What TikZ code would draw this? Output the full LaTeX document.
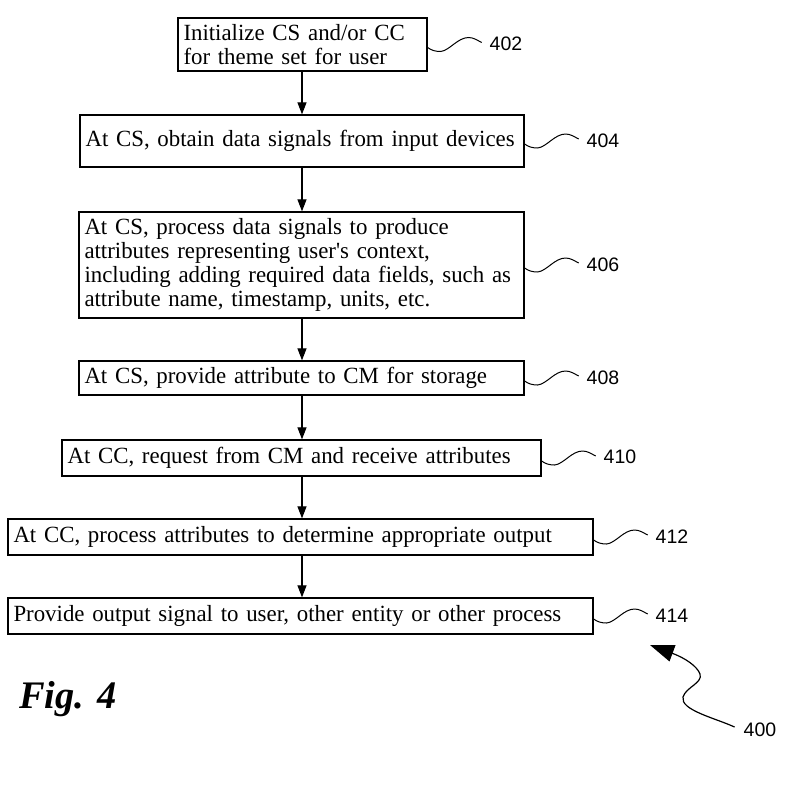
\documentclass[tikz,border=0pt]{standalone}
\usepackage{fontspec}
\setmainfont{Liberation Serif}[FakeStretch=0.985]
\newfontfamily\labelfont{Liberation Sans}
\usetikzlibrary{arrows.meta}
\newcommand\refsquig[1]{\draw[squig, shift={([yshift=-3pt]#1.east)}] (0,0) .. controls (4,3) and (8,4) .. (13,4) .. controls (22,3) and (30,-10) .. (41,-10) .. controls (46,-10) and (50,-7) .. (54,-5);}
\begin{document}
\begin{tikzpicture}[x=1pt,y=-1pt,
  box/.style={draw, line width=1.3pt, rectangle, inner xsep=5.5pt, inner ysep=0pt, align=left, font=\fontsize{23.2}{24}\selectfont},
  flow/.style={line width=1.2pt, -{Triangle[length=12pt,width=9pt]}},
  squig/.style={line width=1pt},
  ref/.style={font=\labelfont\fontsize{19.5}{20}\selectfont, inner sep=0pt}]
\useasboundingbox (0,0) rectangle (806,788);

\node[box, text width=238pt, minimum height=53pt] (b402) at (302.5,44.5) {\mbox{Initialize CS and/or CC}\\\mbox{for theme set for user}};
\node[box, text width=433pt, minimum height=52pt] (b404) at (302,141) {\mbox{At CS, obtain data signals from input devices}};
\node[box, text width=434pt, minimum height=106pt] (b406) at (301.5,265) {\mbox{At CS, process data signals to produce}\\\mbox{attributes representing user\textquotesingle s context,}\\\mbox{including adding required data fields, such as}\\\mbox{attribute name, timestamp, units, etc.}};
\node[box, text width=434pt, minimum height=34pt] (b408) at (301.5,378) {\mbox{At CS, provide attribute to CM for storage}};
\node[box, text width=468pt, minimum height=36pt] (b410) at (301.5,458) {\mbox{At CC, request from CM and receive attributes}};
\node[box, text width=574pt, minimum height=36pt] (b412) at (300.5,537) {\mbox{At CC, process attributes to determine appropriate output}};
\node[box, text width=574pt, minimum height=36pt] (b414) at (300.5,616) {\mbox{Provide output signal to user, other entity or other process}};

\coordinate (spine) at (302,0);
\draw[flow] (b402.south -| spine) -- (b404.north -| spine);
\draw[flow] (b404.south -| spine) -- (b406.north -| spine);
\draw[flow] (b406.south -| spine) -- (b408.north -| spine);
\draw[flow] (b408.south -| spine) -- (b410.north -| spine);
\draw[flow] (b410.south -| spine) -- (b412.north -| spine);
\draw[flow] (b412.south -| spine) -- (b414.north -| spine);

\node[ref] (l402) at (506,44) {402};
\node[ref] (l404) at (603,141) {404};
\node[ref] (l406) at (603,265) {406};
\node[ref] (l408) at (603,378) {408};
\node[ref] (l410) at (620,457) {410};
\node[ref] (l412) at (672,537) {412};
\node[ref] (l414) at (672,616) {414};
\node[ref] (l400) at (760,730) {400};

\refsquig{b402}
\refsquig{b404}
\refsquig{b406}
\refsquig{b408}
\refsquig{b410}
\refsquig{b412}
\refsquig{b414}

\draw[line width=1.2pt, -{Triangle[length=24pt,width=17pt]}] ([xshift=-9pt,yshift=3pt]l400.west) .. controls (715,718) and (680,710) .. (683,697) .. controls (686,687) and (703,683) .. (700,674) .. controls (697,666) and (685,658) .. (650,645);

\node[font=\fontsize{39}{40}\selectfont\bfseries\itshape, anchor=base west, inner sep=0pt] (fig) at (19,708) {Fig. 4};
\end{tikzpicture}
\end{document}
